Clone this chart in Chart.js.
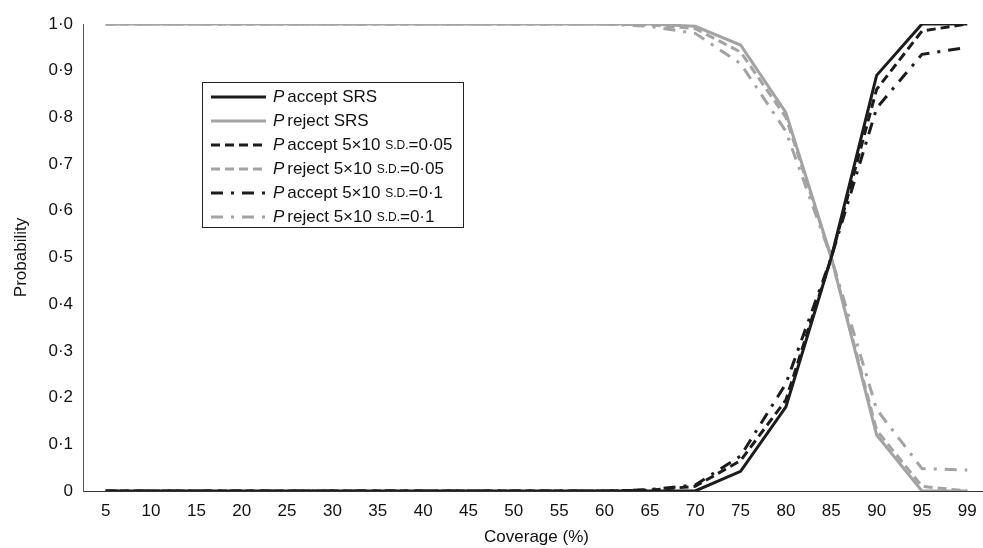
<!DOCTYPE html>
<html>
<head>
<meta charset="utf-8">
<script src="https://cdn.jsdelivr.net/npm/chart.js@4"></script>
<style>
  html, body { margin: 0; padding: 0; background: #fff; overflow: hidden; }
  #wrap { width: 990px; height: 548px; }
</style>
</head>
<body>
<div id="wrap"><canvas id="chart"></canvas></div>
<script>
// coverage categories
const coverage = ['5','10','15','20','25','30','35','40','45','50','55','60','65','70','75','80','85','90','95','99'];

// series values
const acceptSRS  = [0,0,0,0,0,0,0,0,0,0,0,0,0,0,0.042,0.18,0.5,0.89,1.0,1.0];
const rejectSRS  = [1,1,1,1,1,1,1,1,1,1,1,1,1,0.995,0.955,0.81,0.5,0.12,0,0];
const accept005  = [0,0,0,0,0,0,0,0,0,0,0,0,0.002,0.01,0.065,0.195,0.5,0.86,0.985,1.0];
const reject005  = [1,1,1,1,1,1,1,1,1,1,1,1,0.998,0.99,0.94,0.8,0.5,0.13,0.01,0.0];
const accept01   = [0,0,0,0,0,0,0,0,0,0,0,0,0.003,0.013,0.075,0.23,0.5,0.82,0.935,0.95];
const reject01   = [1,1,1,1,1,1,1,1,1,1,1,1,0.995,0.98,0.915,0.77,0.5,0.175,0.048,0.045];

const yTicks = [0,0.1,0.2,0.3,0.4,0.5,0.6,0.7,0.8,0.9,1.0];

const black = '#1c1c1c';
const grey = '#a3a3a3';
const dashed = [9, 5];
const dashDot = [12, 8, 3, 8];
const FONT = '"Liberation Sans", Arial, sans-serif';

// legend text: italic P, rest, optional small-caps part
const legendParts = [
  ['accept SRS', null, ''],
  ['reject SRS', null, ''],
  ['accept 5×10 ', 'S.D.', '=0·05'],
  ['reject 5×10 ', 'S.D.', '=0·05'],
  ['accept 5×10 ', 'S.D.', '=0·1'],
  ['reject 5×10 ', 'S.D.', '=0·1']
];

function ds(label, data, color, dash) {
  return {
    label: label,
    data: data,
    borderColor: color,
    backgroundColor: color,
    borderWidth: 3,
    borderDash: dash,
    pointRadius: 0,
    tension: 0,
    fill: false
  };
}

const legendBox = {
  id: 'legendBox',
  afterDraw(chart) {
    const ctx = chart.ctx;
    const x0 = 202, y0 = 82, w = 261, h = 145;
    ctx.save();
    ctx.strokeStyle = '#222';
    ctx.lineWidth = 1;
    ctx.strokeRect(x0 + 0.5, y0 + 0.5, w, h);
    chart.data.datasets.forEach((d, i) => {
      const cy = y0 + 15 + i * 24;
      ctx.beginPath();
      ctx.setLineDash(d.borderDash || []);
      ctx.strokeStyle = d.borderColor;
      ctx.lineWidth = 3;
      ctx.moveTo(x0 + 9, cy);
      ctx.lineTo(x0 + 64, cy);
      ctx.stroke();
      ctx.setLineDash([]);
      ctx.fillStyle = '#111';
      ctx.textBaseline = 'middle';
      let tx = x0 + 71;
      ctx.font = 'italic 17px ' + FONT;
      ctx.fillText('P', tx, cy);
      tx += ctx.measureText('P').width + 3;
      const p = legendParts[i];
      ctx.font = '17px ' + FONT;
      ctx.fillText(p[0], tx, cy);
      tx += ctx.measureText(p[0]).width;
      if (p[1]) {
        ctx.font = '12px ' + FONT;
        ctx.fillText(p[1], tx, cy + 1);
        tx += ctx.measureText(p[1]).width;
        ctx.font = '17px ' + FONT;
        ctx.fillText(p[2], tx, cy);
      }
    });
    ctx.restore();
  }
};

const ctx = document.getElementById('chart').getContext('2d');
new Chart(ctx, {
  type: 'line',
  data: {
    labels: coverage,
    datasets: [
      ds('P accept SRS', acceptSRS, black, []),
      ds('P reject SRS', rejectSRS, grey, []),
      ds('P accept 5×10 s.d.=0·05', accept005, black, dashed),
      ds('P reject 5×10 s.d.=0·05', reject005, grey, dashed),
      ds('P accept 5×10 s.d.=0·1', accept01, black, dashDot),
      ds('P reject 5×10 s.d.=0·1', reject01, grey, dashDot)
    ]
  },
  options: {
    responsive: true,
    maintainAspectRatio: false,
    animation: false,
    layout: { padding: { top: 24, right: 0, left: 0, bottom: 0 } },
    plugins: {
      legend: { display: false },
      tooltip: { enabled: false }
    },
    scales: {
      x: {
        offset: true,
        grid: { display: false, drawTicks: false },
        border: { color: '#333', width: 1 },
        ticks: {
          color: '#111',
          font: { family: FONT, size: 17 },
          padding: 10,
          maxRotation: 0,
          autoSkip: false
        },
        title: {
          display: true,
          text: 'Coverage (%)',
          color: '#111',
          font: { family: FONT, size: 17 },
          padding: { top: 9, bottom: 0 }
        },
        afterFit(scale) { scale.height = 57; }
      },
      y: {
        min: 0,
        max: 1,
        grid: { display: false, drawTicks: false },
        border: { color: '#555', width: 1 },
        afterBuildTicks(scale) { scale.ticks = yTicks.map(v => ({ value: v })); },
        ticks: {
          color: '#111',
          font: { family: FONT, size: 17 },
          padding: 10,
          callback: v => v === 0 ? '0' : v.toFixed(1).replace('.', '·')
        },
        title: {
          display: true,
          text: 'Probability',
          color: '#111',
          font: { family: FONT, size: 17 },
          padding: { top: 11, bottom: 8 }
        },
        afterFit(scale) { scale.width = 83; }
      }
    }
  },
  plugins: [legendBox]
});
</script>
</body>
</html>
